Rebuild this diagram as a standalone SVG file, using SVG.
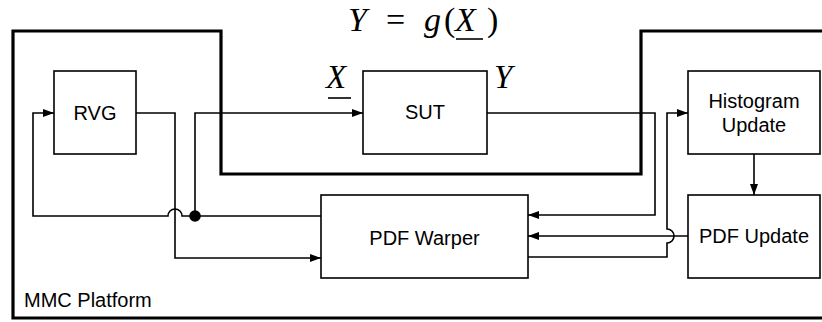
<svg xmlns="http://www.w3.org/2000/svg" width="822" height="322" viewBox="0 0 822 322">
<defs>
<marker id="arr" markerWidth="11" markerHeight="8" refX="11" refY="4" orient="auto" markerUnits="userSpaceOnUse"><path d="M0,0 L11,4 L0,8 Z" fill="#000"/></marker>
</defs>
<style>
.box{fill:#fff;stroke:#000;stroke-width:1.6}
.lbl{font-family:"Liberation Sans",Arial,sans-serif;font-size:20px;fill:#000;text-anchor:middle}
.wire{fill:none;stroke:#000;stroke-width:1.6}
.math{font-family:"Liberation Serif","Times New Roman",serif;font-size:34px;fill:#000}
.sm{font-size:33px}
.it{font-style:italic}
.frame{fill:none;stroke:#000;stroke-width:3.2}
.ul{stroke:#000;stroke-width:1.6}
</style>
<rect width="822" height="322" fill="#fff"/>
<g id="platform">
<path class="frame" d="M826,318 H13 V31 H221 V174 H641 V31 H826"/>
<text x="24" y="307" class="lbl" style="text-anchor:start">MMC Platform</text>
</g>
<g id="formula" class="math">
<text x="348" y="31" class="it">Y</text>
<text x="386" y="31">=</text>
<text x="424" y="31" class="it">g</text>
<text x="444" y="31">(</text>
<text x="455" y="31" class="it">X</text>
<text x="487" y="31">)</text>
<line class="ul" x1="456" y1="39" x2="483" y2="39"/>
</g>
<g id="labelX" class="math sm">
<text x="326" y="88" class="it">X</text>
<line class="ul" x1="328" y1="98" x2="351" y2="98"/>
</g>
<g id="labelY" class="math sm">
<text x="494" y="88" class="it">Y</text>
</g>
<g id="connectors">
<path class="wire" d="M136,113 H175 V258 H321" marker-end="url(#arr)"/>
<path class="wire" d="M195,216 H182 A7,7 0 0 0 168,216 H33 V113 H54" marker-end="url(#arr)"/>
<path class="wire" d="M321,216 H195 V113 H363" marker-end="url(#arr)"/>
<path class="wire" d="M487,113 H655 V215 H528" marker-end="url(#arr)"/>
<path class="wire" d="M528,257 H667 V243 A7,7 0 0 0 667,229 V113 H688" marker-end="url(#arr)"/>
<path class="wire" d="M688,236 H528" marker-end="url(#arr)"/>
<path class="wire" d="M754,154 V195" marker-end="url(#arr)"/>
<circle cx="195" cy="216" r="5.8" fill="#000"/>
</g>
<g id="rvg">
<rect class="box" x="54" y="71" width="82" height="83"/>
<text x="95" y="120" class="lbl">RVG</text>
</g>
<g id="sut">
<rect class="box" x="363" y="71" width="124" height="83"/>
<text x="425" y="119" class="lbl">SUT</text>
</g>
<g id="histogram">
<rect class="box" x="688" y="71" width="132" height="83"/>
<text x="754" y="108" class="lbl">Histogram</text>
<text x="754" y="132" class="lbl">Update</text>
</g>
<g id="warper">
<rect class="box" x="321" y="195" width="207" height="83"/>
<text x="424.5" y="245" class="lbl">PDF Warper</text>
</g>
<g id="pdfupdate">
<rect class="box" x="688" y="195" width="132" height="83"/>
<text x="754" y="243" class="lbl">PDF Update</text>
</g>
</svg>
